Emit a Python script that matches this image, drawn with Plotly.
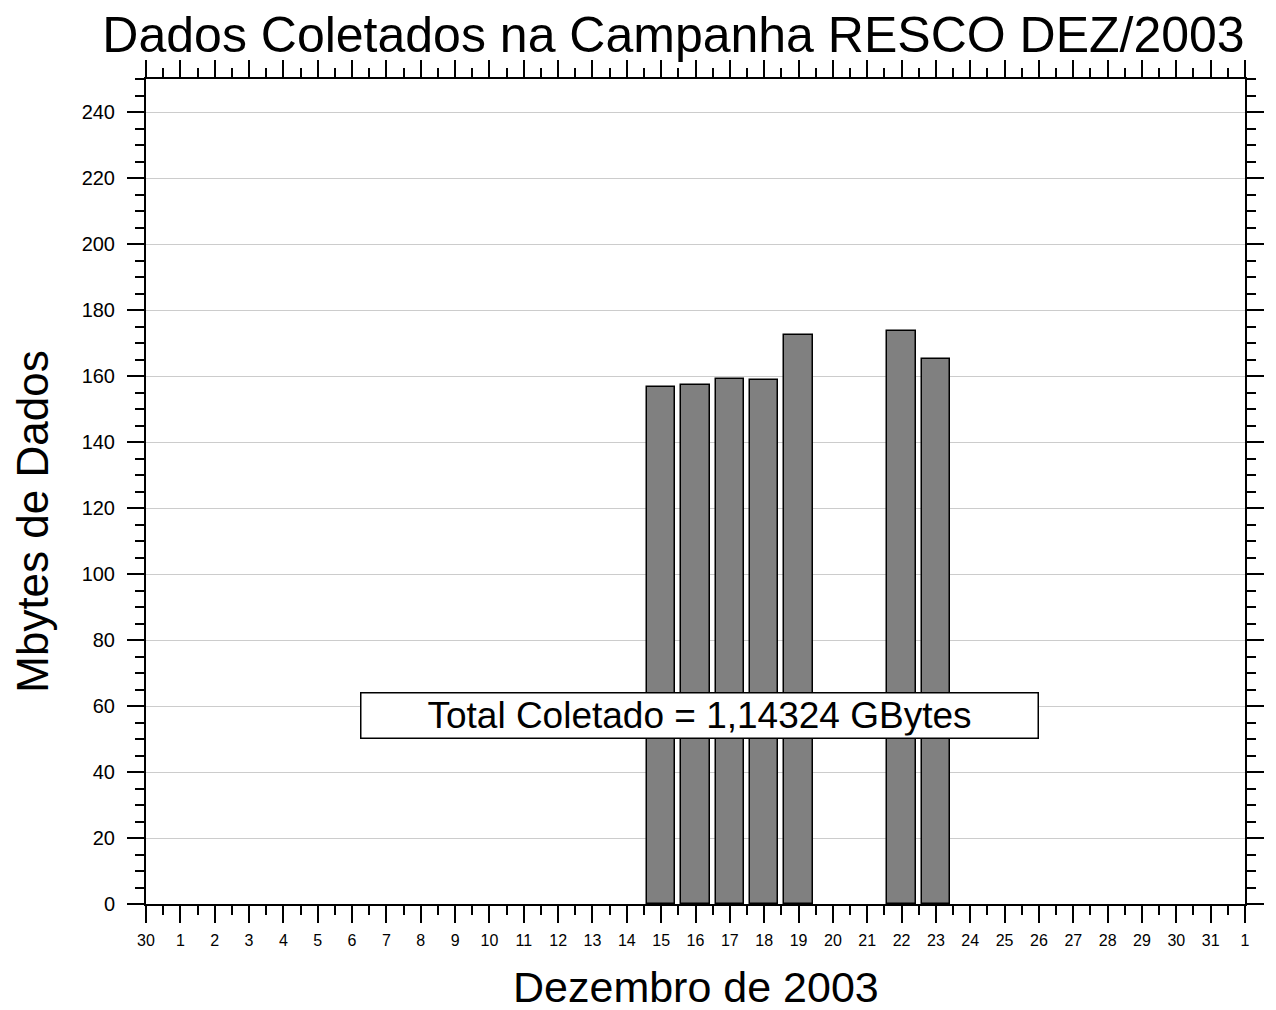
import plotly.graph_objects as go

# Data
tick_labels = ["30"] + [str(d) for d in range(1, 32)] + ["1"]
bar_days = [15, 16, 17, 18, 19, 22, 23]
bar_values = [156.6, 157.3, 159.2, 158.9, 172.4, 173.6, 165.2]
title_text = "Dados Coletados na Campanha RESCO DEZ/2003"
y_title = "Mbytes de Dados"
x_title = "Dezembro de 2003"
annotation_text = "Total Coletado = 1,14324 GBytes"

FONT = "Liberation Sans, Arial, sans-serif"
tick_pos = list(range(len(tick_labels)))

fig = go.Figure()
fig.add_trace(go.Bar(
    x=bar_days, y=bar_values, width=0.82,
    marker=dict(color="#808080", line=dict(color="black", width=1.5)),
    showlegend=False,
))

axis_common = dict(
    showline=True, linecolor="black", linewidth=2, mirror="allticks",
    ticks="outside", ticklen=17, tickwidth=2, tickcolor="black",
    zeroline=False, automargin=False,
)

fig.update_xaxes(
    **axis_common,
    range=[0, len(tick_labels) - 1],
    tickmode="array", tickvals=tick_pos, ticktext=tick_labels,
    tickfont=dict(family=FONT, size=16, color="black"),
    ticklabelstandoff=4,
    showgrid=False,
    minor=dict(tickmode="array", tickvals=[p + 0.5 for p in tick_pos[:-1]],
               ticklen=9, tickwidth=2, tickcolor="black", ticks="outside", showgrid=False),
)
fig.update_yaxes(
    **axis_common,
    range=[0, 250],
    tickmode="linear", tick0=0, dtick=20,
    tickfont=dict(family=FONT, size=20, color="black"),
    ticklabelstandoff=8,
    showgrid=True, gridcolor="#cccccc", gridwidth=1,
    minor=dict(dtick=5, tick0=0, ticklen=9, tickwidth=2, tickcolor="black", ticks="outside", showgrid=False),
)

# axis titles as annotations for precise placement
fig.add_annotation(
    x=-0.104, y=0.463, xref="paper", yref="paper",
    text=y_title, textangle=-90, showarrow=False,
    xanchor="center", yanchor="middle",
    font=dict(family=FONT, size=44, color="black"),
)
fig.add_annotation(
    x=0.5, y=-0.100, xref="paper", yref="paper",
    text=x_title, showarrow=False,
    xanchor="center", yanchor="middle",
    font=dict(family=FONT, size=43, color="black"),
)

fig.add_annotation(
    x=16.13, y=57.1, xref="x", yref="y",
    text=annotation_text, showarrow=False,
    font=dict(family=FONT, size=37, color="black"),
    bgcolor="white", bordercolor="black", borderwidth=1.5,
    width=672, height=40, borderpad=2,
)

fig.update_layout(
    width=1260, height=1010,
    margin=dict(l=138, r=23, t=71, b=114),
    paper_bgcolor="white", plot_bgcolor="white",
    bargap=0,
    title=dict(text=title_text, x=0.48, xref="paper", xanchor="center",
               y=1 - 26 / 1010, yref="container", yanchor="middle",
               font=dict(family=FONT, size=50, color="black")),
)

fig.write_html("out.html")
